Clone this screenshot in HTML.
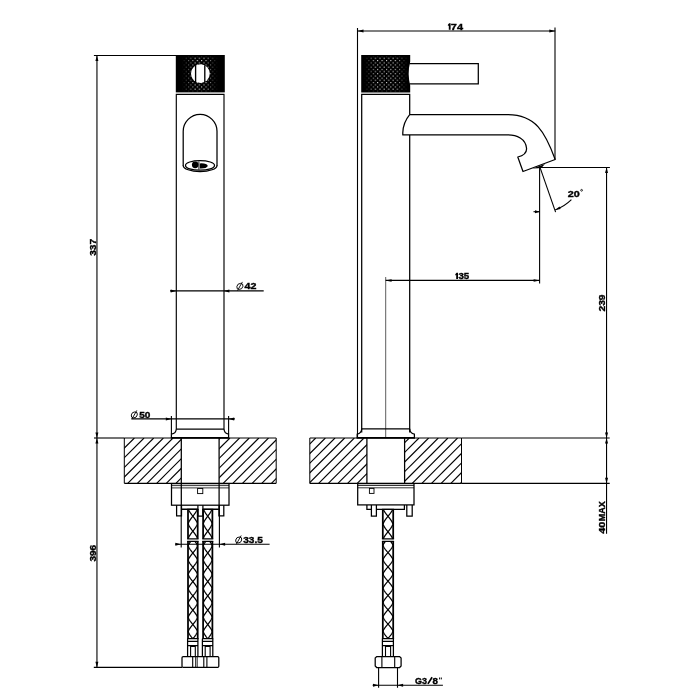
<!DOCTYPE html>
<html><head><meta charset="utf-8"><title>drawing</title>
<style>
html,body{margin:0;padding:0;background:#fff;}
svg{display:block;}
text{font-family:"Liberation Sans",sans-serif;fill:#000;}
svg{filter:grayscale(1);}
</style></head><body>
<svg width="700" height="700" viewBox="0 0 700 700">
<rect width="700" height="700" fill="#fff"/>
<defs>
<pattern id="dots" x="0.5" y="0.2" width="4.4" height="4.4" patternUnits="userSpaceOnUse">
<rect x="0.5" y="0.5" width="1" height="1" fill="#fff"/><rect x="2.7" y="2.7" width="1" height="1" fill="#fff"/>
</pattern>
<linearGradient id="fadeR" x1="0" x2="1" y1="0" y2="0">
<stop offset="0" stop-color="#000"/><stop offset="0.06" stop-color="#000"/><stop offset="0.3" stop-color="#fff"/><stop offset="0.7" stop-color="#fff"/><stop offset="0.95" stop-color="#000"/><stop offset="1" stop-color="#000"/>
</linearGradient>
<linearGradient id="fade" x1="0" x2="1" y1="0" y2="0">
<stop offset="0" stop-color="#000"/><stop offset="0.12" stop-color="#000"/><stop offset="0.4" stop-color="#fff"/><stop offset="0.6" stop-color="#fff"/><stop offset="0.86" stop-color="#000"/><stop offset="1" stop-color="#000"/>
</linearGradient>
<mask id="mL"><rect x="175.8" y="56.8" width="49" height="34.4" fill="url(#fade)"/></mask>
<mask id="mR"><rect x="361.2" y="56.8" width="49" height="34.4" fill="url(#fadeR)"/></mask>
</defs>

<!-- left view -->
<g stroke="#000" stroke-width="1.1" fill="none">
<path d="M93.9,55.5H176"/>
<path d="M96.95,55.5V667.4"/>
<path d="M94,438H124.3"/>
<path d="M93.8,667.4H182"/>
<path d="M170,290.9H263.7"/>
<path d="M131.4,418.9H234.9"/>
<path d="M171.4,415.9V434M228.6,415.9V434"/>
<path d="M175.3,544.2H269.6"/>
<path d="M181.2,505V547.6M219.4,505V547.6"/>
</g>
<polygon points="96.90,55.40 98.40,61.00 95.40,61.00" fill="#000"/>
<polygon points="96.90,438.00 95.40,432.40 98.40,432.40" fill="#000"/>
<polygon points="96.90,438.00 98.40,443.60 95.40,443.60" fill="#000"/>
<polygon points="96.90,667.40 95.40,661.80 98.40,661.80" fill="#000"/>
<polygon points="176.30,290.90 170.70,292.40 170.70,289.40" fill="#000"/>
<polygon points="223.80,290.90 229.40,289.40 229.40,292.40" fill="#000"/>
<polygon points="171.40,418.90 165.80,420.40 165.80,417.40" fill="#000"/>
<polygon points="228.60,418.90 234.20,417.40 234.20,420.40" fill="#000"/>
<polygon points="180.90,544.20 175.30,545.70 175.30,542.70" fill="#000"/>
<polygon points="219.50,544.20 225.10,542.70 225.10,545.70" fill="#000"/>
<rect x="175.8" y="55" width="49" height="37.4" fill="#000"/>
<rect x="175.8" y="55" width="49" height="37.6" fill="url(#dots)" mask="url(#mL)"/>
<circle cx="200.4" cy="73.6" r="9.4" fill="#fff"/>
<path d="M195.6,65.3V82M204.8,65.3V82" stroke="#000" stroke-width="1.35"/>
<path d="M176.3,429V94.3H224V429" stroke="#000" stroke-width="1.15" fill="none"/>
<path d="M176.3,429H224" stroke="#000" stroke-width="1.25" fill="none"/>
<path d="M176.3,429Q176,433.5 171.4,434.2V437.8M224,429Q224.3,433.5 228.6,434.2V437.8" stroke="#000" stroke-width="1.25" fill="none"/>
<path d="M183.2,166V131.3A16.9,16.9 0 0 1 217,131.3V166" stroke="#000" stroke-width="1.25" fill="none"/>
<path d="M183.2,165.4A16.9,6.2 0 0 0 217,165.4" stroke="#000" stroke-width="1.25" fill="none"/>
<ellipse cx="200" cy="165.4" rx="14.5" ry="4.8" stroke="#000" stroke-width="1.25" fill="none"/>
<ellipse cx="195.2" cy="164.8" rx="3.3" ry="3.4" fill="#000"/><path d="M199.8,163.4Q207,163 207.8,166Q206.5,168.8 199.8,168.5Z" fill="#000"/>
<path d="M198.9,161.5V169.6" stroke="#000" stroke-width="0.9"/>
<clipPath id="cL1"><rect x="124.3" y="438" width="56.8" height="45.30000000000001"/></clipPath>
<g clip-path="url(#cL1)" stroke="#000" stroke-width="1.15">
<line x1="69.80" y1="483.3" x2="115.10" y2="438"/>
<line x1="79.45" y1="483.3" x2="124.75" y2="438"/>
<line x1="89.10" y1="483.3" x2="134.40" y2="438"/>
<line x1="98.75" y1="483.3" x2="144.05" y2="438"/>
<line x1="108.40" y1="483.3" x2="153.70" y2="438"/>
<line x1="118.05" y1="483.3" x2="163.35" y2="438"/>
<line x1="127.70" y1="483.3" x2="173.00" y2="438"/>
<line x1="137.35" y1="483.3" x2="182.65" y2="438"/>
<line x1="147.00" y1="483.3" x2="192.30" y2="438"/>
<line x1="156.65" y1="483.3" x2="201.95" y2="438"/>
<line x1="166.30" y1="483.3" x2="211.60" y2="438"/>
<line x1="175.95" y1="483.3" x2="221.25" y2="438"/>
</g>
<clipPath id="cL2"><rect x="219.2" y="438" width="57.0" height="45.30000000000001"/></clipPath>
<g clip-path="url(#cL2)" stroke="#000" stroke-width="1.15">
<line x1="165.30" y1="483.3" x2="210.60" y2="438"/>
<line x1="174.95" y1="483.3" x2="220.25" y2="438"/>
<line x1="184.60" y1="483.3" x2="229.90" y2="438"/>
<line x1="194.25" y1="483.3" x2="239.55" y2="438"/>
<line x1="203.90" y1="483.3" x2="249.20" y2="438"/>
<line x1="213.55" y1="483.3" x2="258.85" y2="438"/>
<line x1="223.20" y1="483.3" x2="268.50" y2="438"/>
<line x1="232.85" y1="483.3" x2="278.15" y2="438"/>
<line x1="242.50" y1="483.3" x2="287.80" y2="438"/>
<line x1="252.15" y1="483.3" x2="297.45" y2="438"/>
<line x1="261.80" y1="483.3" x2="307.10" y2="438"/>
<line x1="271.45" y1="483.3" x2="316.75" y2="438"/>
</g>
<path d="M124.3,438H276.2" stroke="#000" stroke-width="1.0" fill="none"/>
<path d="M170.8,437.9H229.2" stroke="#000" stroke-width="1.6" fill="none"/>
<path d="M124.3,483.3H276.2" stroke="#000" stroke-width="1.3" fill="none"/>
<path d="M124.3,438V483.3M276.2,438V483.3" stroke="#000" stroke-width="1" fill="none"/>
<path d="M181.3,438V505.3M219.1,438V505.3" stroke="#000" stroke-width="1.25" fill="none"/>
<rect x="171.5" y="483.6" width="57.5" height="21.6" stroke="#000" stroke-width="1.25" fill="none"/>
<path d="M171.5,485.6H229M171.5,487.9H229" stroke="#000" stroke-width="0.8"/>
<rect x="197.6" y="488.5" width="5.2" height="5.1" fill="#fff" stroke="#000" stroke-width="0.9"/>
<path d="M176.6,505.2V515.8H181.5V505.2M218.9,505.2V515.8H223.8V505.2" stroke="#000" stroke-width="1.25" fill="none"/>
<path d="M181.5,509.2H197.9M202.9,509.2H218.9" stroke="#000" stroke-width="1.6" fill="none"/>
<path d="M197.9,505.2V516.2H202.9V505.2" stroke="#000" stroke-width="1.25" fill="none"/>
<path d="M188.0,509.3V538.8M197.7,509.3V538.8" stroke="#000" stroke-width="1.75" fill="none"/>
<polyline points="188.46,509.30 188.67,509.80 188.91,510.30 189.17,510.80 189.45,511.30 189.74,511.80 190.06,512.30 190.39,512.80 190.74,513.30 191.10,513.80 191.47,514.30 191.84,514.80 192.23,515.30 192.62,515.80 193.01,516.30 193.39,516.80 193.78,517.30 194.16,517.80 194.53,518.30 194.89,518.80 195.24,519.30 195.58,519.80 195.89,520.30 196.20,520.80 196.48,521.30 196.74,521.80 196.98,522.30 197.20,522.80 197.39,523.30 197.43,523.80 197.24,524.30 197.03,524.80 196.79,525.30 196.53,525.80 196.25,526.30 195.96,526.80 195.64,527.30 195.31,527.80 194.96,528.30 194.60,528.80 194.23,529.30 193.86,529.80 193.47,530.30 193.08,530.80 192.69,531.30 192.31,531.80 191.92,532.30 191.54,532.80 191.17,533.30 190.81,533.80 190.46,534.30 190.12,534.80 189.81,535.30 189.50,535.80 189.22,536.30 188.96,536.80 188.72,537.30 188.50,537.80 188.31,538.30 188.27,538.80" stroke="#000" stroke-width="1.25" fill="none"/>
<polyline points="197.24,509.30 197.03,509.80 196.79,510.30 196.53,510.80 196.25,511.30 195.96,511.80 195.64,512.30 195.31,512.80 194.96,513.30 194.60,513.80 194.23,514.30 193.86,514.80 193.47,515.30 193.08,515.80 192.69,516.30 192.31,516.80 191.92,517.30 191.54,517.80 191.17,518.30 190.81,518.80 190.46,519.30 190.12,519.80 189.81,520.30 189.50,520.80 189.22,521.30 188.96,521.80 188.72,522.30 188.50,522.80 188.31,523.30 188.27,523.80 188.46,524.30 188.67,524.80 188.91,525.30 189.17,525.80 189.45,526.30 189.74,526.80 190.06,527.30 190.39,527.80 190.74,528.30 191.10,528.80 191.47,529.30 191.84,529.80 192.23,530.30 192.62,530.80 193.01,531.30 193.39,531.80 193.78,532.30 194.16,532.80 194.53,533.30 194.89,533.80 195.24,534.30 195.58,534.80 195.89,535.30 196.20,535.80 196.48,536.30 196.74,536.80 196.98,537.30 197.20,537.80 197.39,538.30 197.43,538.80" stroke="#000" stroke-width="1.25" fill="none"/>
<path d="M187.125,509.3H198.575M187.125,538.8H198.575" stroke="#000" stroke-width="1.3" fill="none"/>
<path d="M203.1,509.3V538.8M212.4,509.3V538.8" stroke="#000" stroke-width="1.75" fill="none"/>
<polyline points="203.55,509.30 203.75,509.80 203.98,510.30 204.23,510.80 204.49,511.30 204.78,511.80 205.08,512.30 205.40,512.80 205.73,513.30 206.07,513.80 206.43,514.30 206.79,514.80 207.15,515.30 207.53,515.80 207.90,516.30 208.27,516.80 208.64,517.30 209.00,517.80 209.36,518.30 209.70,518.80 210.04,519.30 210.36,519.80 210.66,520.30 210.95,520.80 211.22,521.30 211.47,521.80 211.70,522.30 211.91,522.80 212.10,523.30 212.13,523.80 211.95,524.30 211.75,524.80 211.52,525.30 211.27,525.80 211.01,526.30 210.72,526.80 210.42,527.30 210.10,527.80 209.77,528.30 209.43,528.80 209.07,529.30 208.71,529.80 208.35,530.30 207.97,530.80 207.60,531.30 207.23,531.80 206.86,532.30 206.50,532.80 206.14,533.30 205.80,533.80 205.46,534.30 205.14,534.80 204.84,535.30 204.55,535.80 204.28,536.30 204.03,536.80 203.80,537.30 203.59,537.80 203.40,538.30 203.37,538.80" stroke="#000" stroke-width="1.25" fill="none"/>
<polyline points="211.95,509.30 211.75,509.80 211.52,510.30 211.27,510.80 211.01,511.30 210.72,511.80 210.42,512.30 210.10,512.80 209.77,513.30 209.43,513.80 209.07,514.30 208.71,514.80 208.35,515.30 207.97,515.80 207.60,516.30 207.23,516.80 206.86,517.30 206.50,517.80 206.14,518.30 205.80,518.80 205.46,519.30 205.14,519.80 204.84,520.30 204.55,520.80 204.28,521.30 204.03,521.80 203.80,522.30 203.59,522.80 203.40,523.30 203.37,523.80 203.55,524.30 203.75,524.80 203.98,525.30 204.23,525.80 204.49,526.30 204.78,526.80 205.08,527.30 205.40,527.80 205.73,528.30 206.07,528.80 206.43,529.30 206.79,529.80 207.15,530.30 207.53,530.80 207.90,531.30 208.27,531.80 208.64,532.30 209.00,532.80 209.36,533.30 209.70,533.80 210.04,534.30 210.36,534.80 210.66,535.30 210.95,535.80 211.22,536.30 211.47,536.80 211.70,537.30 211.91,537.80 212.10,538.30 212.13,538.80" stroke="#000" stroke-width="1.25" fill="none"/>
<path d="M202.225,509.3H213.275M202.225,538.8H213.275" stroke="#000" stroke-width="1.3" fill="none"/>
<path d="M188.0,541.3V638.7M197.7,541.3V638.7" stroke="#000" stroke-width="1.75" fill="none"/>
<polyline points="190.71,541.30 190.35,541.80 190.01,542.30 189.68,542.80 189.37,543.30 189.09,543.80 188.82,544.30 188.59,544.80 188.37,545.30 188.22,545.80 188.41,546.30 188.63,546.80 188.87,547.30 189.14,547.80 189.43,548.30 189.74,548.80 190.07,549.30 190.42,549.80 190.79,550.30 191.17,550.80 191.56,551.30 191.96,551.80 192.36,552.30 192.77,552.80 193.18,553.30 193.58,553.80 193.98,554.30 194.38,554.80 194.76,555.30 195.13,555.80 195.49,556.30 195.83,556.80 196.15,557.30 196.44,557.80 196.72,558.30 196.97,558.80 197.20,559.30 197.41,559.80 197.41,560.30 197.20,560.80 196.97,561.30 196.72,561.80 196.44,562.30 196.15,562.80 195.83,563.30 195.49,563.80 195.13,564.30 194.76,564.80 194.38,565.30 193.98,565.80 193.58,566.30 193.18,566.80 192.77,567.30 192.36,567.80 191.96,568.30 191.56,568.80 191.17,569.30 190.79,569.80 190.42,570.30 190.07,570.80 189.74,571.30 189.43,571.80 189.14,572.30 188.87,572.80 188.63,573.30 188.41,573.80 188.22,574.30 188.37,574.80 188.59,575.30 188.82,575.80 189.09,576.30 189.37,576.80 189.68,577.30 190.01,577.80 190.35,578.30 190.71,578.80 191.09,579.30 191.48,579.80 191.88,580.30 192.28,580.80 192.69,581.30 193.10,581.80 193.50,582.30 193.90,582.80 194.30,583.30 194.69,583.80 195.06,584.30 195.42,584.80 195.76,585.30 196.08,585.80 196.39,586.30 196.67,586.80 196.93,587.30 197.16,587.80 197.37,588.30 197.45,588.80 197.25,589.30 197.02,589.80 196.77,590.30 196.50,590.80 196.21,591.30 195.89,591.80 195.56,592.30 195.20,592.80 194.84,593.30 194.46,593.80 194.06,594.30 193.66,594.80 193.26,595.30 192.85,595.80 192.44,596.30 192.04,596.80 191.64,597.30 191.24,597.80 190.86,598.30 190.50,598.80 190.14,599.30 189.81,599.80 189.49,600.30 189.20,600.80 188.93,601.30 188.68,601.80 188.45,602.30 188.25,602.80 188.33,603.30 188.54,603.80 188.77,604.30 189.03,604.80 189.31,605.30 189.62,605.80 189.94,606.30 190.28,606.80 190.64,607.30 191.01,607.80 191.40,608.30 191.80,608.80 192.20,609.30 192.60,609.80 193.01,610.30 193.42,610.80 193.82,611.30 194.22,611.80 194.61,612.30 194.99,612.80 195.35,613.30 195.69,613.80 196.02,614.30 196.33,614.80 196.61,615.30 196.88,615.80 197.11,616.30 197.33,616.80 197.48,617.30 197.29,617.80 197.07,618.30 196.83,618.80 196.56,619.30 196.27,619.80 195.96,620.30 195.63,620.80 195.28,621.30 194.91,621.80 194.53,622.30 194.14,622.80 193.74,623.30 193.34,623.80 192.93,624.30 192.52,624.80 192.12,625.30 191.72,625.80 191.32,626.30 190.94,626.80 190.57,627.30 190.21,627.80 189.87,628.30 189.55,628.80 189.26,629.30 188.98,629.80 188.73,630.30 188.50,630.80 188.29,631.30 188.29,631.80 188.50,632.30 188.73,632.80 188.98,633.30 189.26,633.80 189.55,634.30 189.87,634.80 190.21,635.30 190.57,635.80 190.94,636.30 191.32,636.80 191.72,637.30 192.12,637.80 192.52,638.30" stroke="#000" stroke-width="1.25" fill="none"/>
<polyline points="194.99,541.30 195.35,541.80 195.69,542.30 196.02,542.80 196.33,543.30 196.61,543.80 196.88,544.30 197.11,544.80 197.33,545.30 197.48,545.80 197.29,546.30 197.07,546.80 196.83,547.30 196.56,547.80 196.27,548.30 195.96,548.80 195.63,549.30 195.28,549.80 194.91,550.30 194.53,550.80 194.14,551.30 193.74,551.80 193.34,552.30 192.93,552.80 192.52,553.30 192.12,553.80 191.72,554.30 191.32,554.80 190.94,555.30 190.57,555.80 190.21,556.30 189.87,556.80 189.55,557.30 189.26,557.80 188.98,558.30 188.73,558.80 188.50,559.30 188.29,559.80 188.29,560.30 188.50,560.80 188.73,561.30 188.98,561.80 189.26,562.30 189.55,562.80 189.87,563.30 190.21,563.80 190.57,564.30 190.94,564.80 191.32,565.30 191.72,565.80 192.12,566.30 192.52,566.80 192.93,567.30 193.34,567.80 193.74,568.30 194.14,568.80 194.53,569.30 194.91,569.80 195.28,570.30 195.63,570.80 195.96,571.30 196.27,571.80 196.56,572.30 196.83,572.80 197.07,573.30 197.29,573.80 197.48,574.30 197.33,574.80 197.11,575.30 196.88,575.80 196.61,576.30 196.33,576.80 196.02,577.30 195.69,577.80 195.35,578.30 194.99,578.80 194.61,579.30 194.22,579.80 193.82,580.30 193.42,580.80 193.01,581.30 192.60,581.80 192.20,582.30 191.80,582.80 191.40,583.30 191.01,583.80 190.64,584.30 190.28,584.80 189.94,585.30 189.62,585.80 189.31,586.30 189.03,586.80 188.77,587.30 188.54,587.80 188.33,588.30 188.25,588.80 188.45,589.30 188.68,589.80 188.93,590.30 189.20,590.80 189.49,591.30 189.81,591.80 190.14,592.30 190.50,592.80 190.86,593.30 191.24,593.80 191.64,594.30 192.04,594.80 192.44,595.30 192.85,595.80 193.26,596.30 193.66,596.80 194.06,597.30 194.46,597.80 194.84,598.30 195.20,598.80 195.56,599.30 195.89,599.80 196.21,600.30 196.50,600.80 196.77,601.30 197.02,601.80 197.25,602.30 197.45,602.80 197.37,603.30 197.16,603.80 196.93,604.30 196.67,604.80 196.39,605.30 196.08,605.80 195.76,606.30 195.42,606.80 195.06,607.30 194.69,607.80 194.30,608.30 193.90,608.80 193.50,609.30 193.10,609.80 192.69,610.30 192.28,610.80 191.88,611.30 191.48,611.80 191.09,612.30 190.71,612.80 190.35,613.30 190.01,613.80 189.68,614.30 189.37,614.80 189.09,615.30 188.82,615.80 188.59,616.30 188.37,616.80 188.22,617.30 188.41,617.80 188.63,618.30 188.87,618.80 189.14,619.30 189.43,619.80 189.74,620.30 190.07,620.80 190.42,621.30 190.79,621.80 191.17,622.30 191.56,622.80 191.96,623.30 192.36,623.80 192.77,624.30 193.18,624.80 193.58,625.30 193.98,625.80 194.38,626.30 194.76,626.80 195.13,627.30 195.49,627.80 195.83,628.30 196.15,628.80 196.44,629.30 196.72,629.80 196.97,630.30 197.20,630.80 197.41,631.30 197.41,631.80 197.20,632.30 196.97,632.80 196.72,633.30 196.44,633.80 196.15,634.30 195.83,634.80 195.49,635.30 195.13,635.80 194.76,636.30 194.38,636.80 193.98,637.30 193.58,637.80 193.18,638.30" stroke="#000" stroke-width="1.25" fill="none"/>
<path d="M187.125,541.3H198.575M187.125,638.7H198.575" stroke="#000" stroke-width="1.3" fill="none"/>
<path d="M203.1,541.3V638.7M212.4,541.3V638.7" stroke="#000" stroke-width="1.75" fill="none"/>
<polyline points="205.71,541.30 205.36,541.80 205.03,542.30 204.72,542.80 204.42,543.30 204.15,543.80 203.90,544.30 203.67,544.80 203.46,545.30 203.32,545.80 203.50,546.30 203.71,546.80 203.95,547.30 204.20,547.80 204.48,548.30 204.78,548.80 205.09,549.30 205.43,549.80 205.78,550.30 206.14,550.80 206.51,551.30 206.89,551.80 207.28,552.30 207.67,552.80 208.06,553.30 208.45,553.80 208.84,554.30 209.21,554.80 209.58,555.30 209.93,555.80 210.27,556.30 210.60,556.80 210.90,557.30 211.19,557.80 211.45,558.30 211.70,558.80 211.92,559.30 212.11,559.80 212.11,560.30 211.92,560.80 211.70,561.30 211.45,561.80 211.19,562.30 210.90,562.80 210.60,563.30 210.27,563.80 209.93,564.30 209.58,564.80 209.21,565.30 208.84,565.80 208.45,566.30 208.06,566.80 207.67,567.30 207.28,567.80 206.89,568.30 206.51,568.80 206.14,569.30 205.78,569.80 205.43,570.30 205.09,570.80 204.78,571.30 204.48,571.80 204.20,572.30 203.95,572.80 203.71,573.30 203.50,573.80 203.32,574.30 203.46,574.80 203.67,575.30 203.90,575.80 204.15,576.30 204.42,576.80 204.72,577.30 205.03,577.80 205.36,578.30 205.71,578.80 206.07,579.30 206.44,579.80 206.82,580.30 207.20,580.80 207.59,581.30 207.98,581.80 208.37,582.30 208.76,582.80 209.14,583.30 209.51,583.80 209.86,584.30 210.21,584.80 210.53,585.30 210.84,585.80 211.13,586.30 211.40,586.80 211.65,587.30 211.87,587.80 212.07,588.30 212.15,588.80 211.96,589.30 211.74,589.80 211.51,590.30 211.24,590.80 210.96,591.30 210.66,591.80 210.34,592.30 210.00,592.80 209.65,593.30 209.29,593.80 208.91,594.30 208.53,594.80 208.14,595.30 207.75,595.80 207.36,596.30 206.97,596.80 206.59,597.30 206.21,597.80 205.85,598.30 205.50,598.80 205.16,599.30 204.84,599.80 204.54,600.30 204.26,600.80 203.99,601.30 203.76,601.80 203.54,602.30 203.35,602.80 203.43,603.30 203.63,603.80 203.85,604.30 204.10,604.80 204.37,605.30 204.66,605.80 204.97,606.30 205.29,606.80 205.64,607.30 205.99,607.80 206.36,608.30 206.74,608.80 207.13,609.30 207.52,609.80 207.91,610.30 208.30,610.80 208.68,611.30 209.06,611.80 209.43,612.30 209.79,612.80 210.14,613.30 210.47,613.80 210.78,614.30 211.08,614.80 211.35,615.30 211.60,615.80 211.83,616.30 212.04,616.80 212.18,617.30 212.00,617.80 211.79,618.30 211.55,618.80 211.30,619.30 211.02,619.80 210.72,620.30 210.41,620.80 210.07,621.30 209.72,621.80 209.36,622.30 208.99,622.80 208.61,623.30 208.22,623.80 207.83,624.30 207.44,624.80 207.05,625.30 206.66,625.80 206.29,626.30 205.92,626.80 205.57,627.30 205.23,627.80 204.90,628.30 204.60,628.80 204.31,629.30 204.05,629.80 203.80,630.30 203.58,630.80 203.39,631.30 203.39,631.80 203.58,632.30 203.80,632.80 204.05,633.30 204.31,633.80 204.60,634.30 204.90,634.80 205.23,635.30 205.57,635.80 205.92,636.30 206.29,636.80 206.66,637.30 207.05,637.80 207.44,638.30" stroke="#000" stroke-width="1.25" fill="none"/>
<polyline points="209.79,541.30 210.14,541.80 210.47,542.30 210.78,542.80 211.08,543.30 211.35,543.80 211.60,544.30 211.83,544.80 212.04,545.30 212.18,545.80 212.00,546.30 211.79,546.80 211.55,547.30 211.30,547.80 211.02,548.30 210.72,548.80 210.41,549.30 210.07,549.80 209.72,550.30 209.36,550.80 208.99,551.30 208.61,551.80 208.22,552.30 207.83,552.80 207.44,553.30 207.05,553.80 206.66,554.30 206.29,554.80 205.92,555.30 205.57,555.80 205.23,556.30 204.90,556.80 204.60,557.30 204.31,557.80 204.05,558.30 203.80,558.80 203.58,559.30 203.39,559.80 203.39,560.30 203.58,560.80 203.80,561.30 204.05,561.80 204.31,562.30 204.60,562.80 204.90,563.30 205.23,563.80 205.57,564.30 205.92,564.80 206.29,565.30 206.66,565.80 207.05,566.30 207.44,566.80 207.83,567.30 208.22,567.80 208.61,568.30 208.99,568.80 209.36,569.30 209.72,569.80 210.07,570.30 210.41,570.80 210.72,571.30 211.02,571.80 211.30,572.30 211.55,572.80 211.79,573.30 212.00,573.80 212.18,574.30 212.04,574.80 211.83,575.30 211.60,575.80 211.35,576.30 211.08,576.80 210.78,577.30 210.47,577.80 210.14,578.30 209.79,578.80 209.43,579.30 209.06,579.80 208.68,580.30 208.30,580.80 207.91,581.30 207.52,581.80 207.13,582.30 206.74,582.80 206.36,583.30 205.99,583.80 205.64,584.30 205.29,584.80 204.97,585.30 204.66,585.80 204.37,586.30 204.10,586.80 203.85,587.30 203.63,587.80 203.43,588.30 203.35,588.80 203.54,589.30 203.76,589.80 203.99,590.30 204.26,590.80 204.54,591.30 204.84,591.80 205.16,592.30 205.50,592.80 205.85,593.30 206.21,593.80 206.59,594.30 206.97,594.80 207.36,595.30 207.75,595.80 208.14,596.30 208.53,596.80 208.91,597.30 209.29,597.80 209.65,598.30 210.00,598.80 210.34,599.30 210.66,599.80 210.96,600.30 211.24,600.80 211.51,601.30 211.74,601.80 211.96,602.30 212.15,602.80 212.07,603.30 211.87,603.80 211.65,604.30 211.40,604.80 211.13,605.30 210.84,605.80 210.53,606.30 210.21,606.80 209.86,607.30 209.51,607.80 209.14,608.30 208.76,608.80 208.37,609.30 207.98,609.80 207.59,610.30 207.20,610.80 206.82,611.30 206.44,611.80 206.07,612.30 205.71,612.80 205.36,613.30 205.03,613.80 204.72,614.30 204.42,614.80 204.15,615.30 203.90,615.80 203.67,616.30 203.46,616.80 203.32,617.30 203.50,617.80 203.71,618.30 203.95,618.80 204.20,619.30 204.48,619.80 204.78,620.30 205.09,620.80 205.43,621.30 205.78,621.80 206.14,622.30 206.51,622.80 206.89,623.30 207.28,623.80 207.67,624.30 208.06,624.80 208.45,625.30 208.84,625.80 209.21,626.30 209.58,626.80 209.93,627.30 210.27,627.80 210.60,628.30 210.90,628.80 211.19,629.30 211.45,629.80 211.70,630.30 211.92,630.80 212.11,631.30 212.11,631.80 211.92,632.30 211.70,632.80 211.45,633.30 211.19,633.80 210.90,634.30 210.60,634.80 210.27,635.30 209.93,635.80 209.58,636.30 209.21,636.80 208.84,637.30 208.45,637.80 208.06,638.30" stroke="#000" stroke-width="1.25" fill="none"/>
<path d="M202.225,541.3H213.275M202.225,638.7H213.275" stroke="#000" stroke-width="1.3" fill="none"/>
<path d="M187.6,638.7V656.4M197.9,638.7V656.4M187.6,641.4H197.9M187.1,645.6H198.4" stroke="#000" stroke-width="1.25" fill="none"/>
<path d="M190.6,656.4V646.4H195.3V656.4" stroke="#000" stroke-width="1.1" fill="none"/>
<path d="M202.4,638.7V656.4M212.8,638.7V656.4M202.4,641.4H212.8M201.9,645.6H213.3" stroke="#000" stroke-width="1.25" fill="none"/>
<path d="M205.2,656.4V646.4H210.1V656.4" stroke="#000" stroke-width="1.1" fill="none"/>
<rect x="182" y="656.6" width="36.8" height="10.8" rx="1.2" stroke="#000" stroke-width="1.25" fill="none"/>
<path d="M192.7,656.6V667.4M195.8,656.6V667.4M203.8,656.6V667.4M206.9,656.6V667.4" stroke="#000" stroke-width="1.1"/>
<path d="M197.5,656.6V667.4" stroke="#000" stroke-width="0.6"/>
<text x="95.6" y="255.8" font-size="8.6" font-weight="bold" stroke="#000" stroke-width="0.35" textLength="17.0" lengthAdjust="spacingAndGlyphs" transform="rotate(-90 95.6 255.8)">337</text>
<text x="95.6" y="561.6" font-size="8.6" font-weight="bold" stroke="#000" stroke-width="0.35" textLength="16.7" lengthAdjust="spacingAndGlyphs" transform="rotate(-90 95.6 561.6)">396</text>
<ellipse cx="239.9" cy="286.4" rx="3.0" ry="3.0" fill="none" stroke="#000" stroke-width="0.9" transform="skewX(-12)" style="transform-origin:239.9px 286.4px"/><line x1="237.5" y1="290.59999999999997" x2="242.4" y2="281.9" stroke="#000" stroke-width="0.9"/>
<text x="244.5" y="288.9" font-size="8.6" font-weight="bold" stroke="#000" stroke-width="0.35" textLength="11.9" lengthAdjust="spacingAndGlyphs">42</text>
<ellipse cx="134.3" cy="414.9" rx="3.0" ry="3.0" fill="none" stroke="#000" stroke-width="0.9" transform="skewX(-12)" style="transform-origin:134.3px 414.9px"/><line x1="131.9" y1="419.09999999999997" x2="136.8" y2="410.4" stroke="#000" stroke-width="0.9"/>
<text x="139.2" y="417.7" font-size="8.6" font-weight="bold" stroke="#000" stroke-width="0.35" textLength="11.2" lengthAdjust="spacingAndGlyphs">50</text>
<ellipse cx="238.7" cy="540.0" rx="3.0" ry="3.0" fill="none" stroke="#000" stroke-width="0.9" transform="skewX(-12)" style="transform-origin:238.7px 540.0px"/><line x1="236.29999999999998" y1="544.2" x2="241.2" y2="535.5" stroke="#000" stroke-width="0.9"/>
<text x="243.2" y="542.5" font-size="8.6" font-weight="bold" stroke="#000" stroke-width="0.35" textLength="19.6" lengthAdjust="spacingAndGlyphs">33.5</text>
<!-- right view -->
<g stroke="#000" stroke-width="1.1" fill="none">
<path d="M357.5,31.0H555.3"/>
<path d="M357.5,28V437.5"/>
<path d="M555.0,27.5V159.4"/>
<path d="M385.7,277V437.5" stroke-width="0.8" stroke="#333"/>
<path d="M385.7,280.4H539.6"/>
<path d="M539.6,167.4V283.5"/>
<path d="M539.5,167.45H609.9"/>
<path d="M540,167.4L555.6,212.1"/>
<path d="M555.1,209.9A45.1,45.1 0 0 0 571.4,199.6"/>
<path d="M533.5,211.7H540"/>
<path d="M606.55,167.4V533.7"/>
<path d="M461.5,438H609.7"/>
<path d="M461.5,483.4H609.7"/>
<path d="M378.6,667.5V687.8M397.5,667.5V687.8"/>
<path d="M372.6,685.2H442.9"/>
</g>
<polygon points="357.50,31.00 363.50,29.50 363.50,32.50" fill="#000"/>
<polygon points="555.30,31.00 549.30,32.50 549.30,29.50" fill="#000"/>
<polygon points="385.30,280.40 391.60,279.15 391.60,281.65" fill="#000"/>
<polygon points="539.90,280.40 533.60,281.65 533.60,279.15" fill="#000"/>
<polygon points="606.55,167.50 608.05,173.10 605.05,173.10" fill="#000"/>
<polygon points="606.55,438.00 605.05,432.40 608.05,432.40" fill="#000"/>
<polygon points="606.55,438.00 608.05,443.60 605.05,443.60" fill="#000"/>
<polygon points="606.55,483.40 605.05,477.80 608.05,477.80" fill="#000"/>
<polygon points="540.00,211.70 535.00,213.20 535.00,210.20" fill="#000"/>
<polygon points="555.00,209.90 559.51,206.47 560.61,209.04" fill="#000"/>
<polygon points="378.60,685.20 373.00,686.70 373.00,683.70" fill="#000"/>
<polygon points="397.50,685.20 403.10,683.70 403.10,686.70" fill="#000"/>
<polygon points="532.5,168.6 545,163.9 542,167.2 538.5,168.2" fill="#000"/>
<path d="M361.2,55H410.2V61.5Q407.2,73.6 410.2,85.5V92.4H361.2Z" fill="#000"/>
<path d="M361.2,55H410.2V61.5Q407.2,73.6 410.2,85.5V92.4H361.2Z" fill="url(#dots)" mask="url(#mR)"/>
<path d="M409.3,63.6H478.3V83.8H409.3" stroke="#000" stroke-width="1.25" fill="none"/>
<path d="M361.7,432.5V94.3H409.7V114.7M409.7,135V432.5" stroke="#000" stroke-width="1.25" fill="none"/>
<path d="M409.7,114.7H508C535.5,114.8 545.2,132.2 555.2,159.5L523,171.5L517.8,157C524,155.5 527,152 526.5,148C525.5,139 517,134.9 508,134.9H402.8V132.6Q403.2,122.5 409.7,114.7" stroke="#000" stroke-width="1.25" fill="none" stroke-linejoin="round"/>
<path d="M361.7,428.8H409.7" stroke="#000" stroke-width="1.25" fill="none"/>
<path d="M361.7,428.8Q361.4,433.5 357.2,434.2V437.8M409.7,428.8Q410,433.5 414.4,434.2V437.8" stroke="#000" stroke-width="1.25" fill="none"/>
<clipPath id="cR1"><rect x="309.8" y="438" width="57.099999999999966" height="45.30000000000001"/></clipPath>
<g clip-path="url(#cR1)" stroke="#000" stroke-width="1.15">
<line x1="260.75" y1="483.3" x2="306.05" y2="438"/>
<line x1="270.40" y1="483.3" x2="315.70" y2="438"/>
<line x1="280.05" y1="483.3" x2="325.35" y2="438"/>
<line x1="289.70" y1="483.3" x2="335.00" y2="438"/>
<line x1="299.35" y1="483.3" x2="344.65" y2="438"/>
<line x1="309.00" y1="483.3" x2="354.30" y2="438"/>
<line x1="318.65" y1="483.3" x2="363.95" y2="438"/>
<line x1="328.30" y1="483.3" x2="373.60" y2="438"/>
<line x1="337.95" y1="483.3" x2="383.25" y2="438"/>
<line x1="347.60" y1="483.3" x2="392.90" y2="438"/>
<line x1="357.25" y1="483.3" x2="402.55" y2="438"/>
<line x1="366.90" y1="483.3" x2="412.20" y2="438"/>
</g>
<clipPath id="cR2"><rect x="404.6" y="438" width="56.799999999999955" height="45.30000000000001"/></clipPath>
<g clip-path="url(#cR2)" stroke="#000" stroke-width="1.15">
<line x1="354.35" y1="483.3" x2="399.65" y2="438"/>
<line x1="364.00" y1="483.3" x2="409.30" y2="438"/>
<line x1="373.65" y1="483.3" x2="418.95" y2="438"/>
<line x1="383.30" y1="483.3" x2="428.60" y2="438"/>
<line x1="392.95" y1="483.3" x2="438.25" y2="438"/>
<line x1="402.60" y1="483.3" x2="447.90" y2="438"/>
<line x1="412.25" y1="483.3" x2="457.55" y2="438"/>
<line x1="421.90" y1="483.3" x2="467.20" y2="438"/>
<line x1="431.55" y1="483.3" x2="476.85" y2="438"/>
<line x1="441.20" y1="483.3" x2="486.50" y2="438"/>
<line x1="450.85" y1="483.3" x2="496.15" y2="438"/>
<line x1="460.50" y1="483.3" x2="505.80" y2="438"/>
</g>
<path d="M309.8,438H461.5" stroke="#000" stroke-width="1.0" fill="none"/>
<path d="M356.6,437.9H415" stroke="#000" stroke-width="1.6" fill="none"/>
<path d="M309.8,483.3H461.5" stroke="#000" stroke-width="1.3" fill="none"/>
<path d="M309.8,438V483.5M461.5,438V483.5" stroke="#000" stroke-width="1" fill="none"/>
<path d="M366.9,438V483.5M404.6,438V483.5" stroke="#000" stroke-width="1.25" fill="none"/>
<rect x="357.7" y="483.6" width="56.3" height="21.3" stroke="#000" stroke-width="1.25" fill="none"/>
<path d="M357.7,485.5H414M357.7,487.8H414" stroke="#000" stroke-width="0.8"/>
<rect x="369.4" y="488.4" width="4.6" height="5" fill="#fff" stroke="#000" stroke-width="0.9"/>
<path d="M366.9,505V509.4H371.3M376.4,509.4H404.4V505" stroke="#000" stroke-width="1.25" fill="none"/>
<path d="M371.4,505V516.2H376.4V505M406.8,505V516.2H412.2V505" stroke="#000" stroke-width="1.25" fill="none"/>
<path d="M382.8,509.4V538.9M393.2,509.4V538.9" stroke="#000" stroke-width="1.75" fill="none"/>
<polyline points="383.33,509.40 383.56,509.90 383.81,510.40 384.08,510.90 384.38,511.40 384.69,511.90 385.02,512.40 385.36,512.90 385.72,513.40 386.10,513.90 386.48,514.40 386.87,514.90 387.27,515.40 387.68,515.90 388.08,516.40 388.49,516.90 388.89,517.40 389.28,517.90 389.67,518.40 390.05,518.90 390.42,519.40 390.78,519.90 391.12,520.40 391.44,520.90 391.74,521.40 392.03,521.90 392.29,522.40 392.53,522.90 392.75,523.40 392.95,523.90 392.87,524.40 392.67,524.90 392.44,525.40 392.19,525.90 391.92,526.40 391.62,526.90 391.31,527.40 390.98,527.90 390.64,528.40 390.28,528.90 389.90,529.40 389.52,529.90 389.13,530.40 388.73,530.90 388.32,531.40 387.92,531.90 387.51,532.40 387.11,532.90 386.72,533.40 386.33,533.90 385.95,534.40 385.58,534.90 385.22,535.40 384.88,535.90 384.56,536.40 384.26,536.90 383.97,537.40 383.71,537.90 383.47,538.40 383.25,538.90" stroke="#000" stroke-width="1.25" fill="none"/>
<polyline points="392.67,509.40 392.44,509.90 392.19,510.40 391.92,510.90 391.62,511.40 391.31,511.90 390.98,512.40 390.64,512.90 390.28,513.40 389.90,513.90 389.52,514.40 389.13,514.90 388.73,515.40 388.32,515.90 387.92,516.40 387.51,516.90 387.11,517.40 386.72,517.90 386.33,518.40 385.95,518.90 385.58,519.40 385.22,519.90 384.88,520.40 384.56,520.90 384.26,521.40 383.97,521.90 383.71,522.40 383.47,522.90 383.25,523.40 383.05,523.90 383.13,524.40 383.33,524.90 383.56,525.40 383.81,525.90 384.08,526.40 384.38,526.90 384.69,527.40 385.02,527.90 385.36,528.40 385.72,528.90 386.10,529.40 386.48,529.90 386.87,530.40 387.27,530.90 387.68,531.40 388.08,531.90 388.49,532.40 388.89,532.90 389.28,533.40 389.67,533.90 390.05,534.40 390.42,534.90 390.78,535.40 391.12,535.90 391.44,536.40 391.74,536.90 392.03,537.40 392.29,537.90 392.53,538.40 392.75,538.90" stroke="#000" stroke-width="1.25" fill="none"/>
<path d="M381.925,509.4H394.075M381.925,538.9H394.075" stroke="#000" stroke-width="1.3" fill="none"/>
<path d="M382.8,541.3V638.6M393.2,541.3V638.6" stroke="#000" stroke-width="1.75" fill="none"/>
<polyline points="385.39,541.30 385.02,541.80 384.66,542.30 384.32,542.80 384.01,543.30 383.73,543.80 383.46,544.30 383.23,544.80 383.02,545.30 383.18,545.80 383.41,546.30 383.67,546.80 383.95,547.30 384.26,547.80 384.59,548.30 384.94,548.80 385.31,549.30 385.70,549.80 386.11,550.30 386.53,550.80 386.95,551.30 387.39,551.80 387.82,552.30 388.26,552.80 388.70,553.30 389.13,553.80 389.56,554.30 389.97,554.80 390.38,555.30 390.76,555.80 391.13,556.30 391.48,556.80 391.80,557.30 392.11,557.80 392.38,558.30 392.63,558.80 392.86,559.30 392.94,559.80 392.73,560.30 392.49,560.80 392.22,561.30 391.93,561.80 391.61,562.30 391.27,562.80 390.91,563.30 390.53,563.80 390.14,564.30 389.73,564.80 389.31,565.30 388.87,565.80 388.44,566.30 388.00,566.80 387.56,567.30 387.13,567.80 386.69,568.30 386.27,568.80 385.86,569.30 385.47,569.80 385.09,570.30 384.73,570.80 384.39,571.30 384.07,571.80 383.78,572.30 383.51,572.80 383.27,573.30 383.06,573.80 383.14,574.30 383.37,574.80 383.62,575.30 383.89,575.80 384.20,576.30 384.52,576.80 384.87,577.30 385.24,577.80 385.62,578.30 386.03,578.80 386.44,579.30 386.87,579.80 387.30,580.30 387.74,580.80 388.18,581.30 388.61,581.80 389.05,582.30 389.47,582.80 389.89,583.30 390.30,583.80 390.69,584.30 391.06,584.80 391.41,585.30 391.74,585.80 392.05,586.30 392.33,586.80 392.59,587.30 392.82,587.80 392.98,588.30 392.77,588.80 392.54,589.30 392.27,589.80 391.99,590.30 391.68,590.80 391.34,591.30 390.98,591.80 390.61,592.30 390.22,592.80 389.81,593.30 389.39,593.80 388.96,594.30 388.53,594.80 388.09,595.30 387.65,595.80 387.21,596.30 386.78,596.80 386.36,597.30 385.94,597.80 385.55,598.30 385.16,598.80 384.80,599.30 384.46,599.80 384.13,600.30 383.84,600.80 383.57,601.30 383.32,601.80 383.10,602.30 383.10,602.80 383.32,603.30 383.57,603.80 383.84,604.30 384.13,604.80 384.46,605.30 384.80,605.80 385.16,606.30 385.55,606.80 385.94,607.30 386.36,607.80 386.78,608.30 387.21,608.80 387.65,609.30 388.09,609.80 388.53,610.30 388.96,610.80 389.39,611.30 389.81,611.80 390.22,612.30 390.61,612.80 390.98,613.30 391.34,613.80 391.68,614.30 391.99,614.80 392.27,615.30 392.54,615.80 392.77,616.30 392.98,616.80 392.82,617.30 392.59,617.80 392.33,618.30 392.05,618.80 391.74,619.30 391.41,619.80 391.06,620.30 390.69,620.80 390.30,621.30 389.89,621.80 389.47,622.30 389.05,622.80 388.61,623.30 388.18,623.80 387.74,624.30 387.30,624.80 386.87,625.30 386.44,625.80 386.03,626.30 385.62,626.80 385.24,627.30 384.87,627.80 384.52,628.30 384.20,628.80 383.89,629.30 383.62,629.80 383.37,630.30 383.14,630.80 383.06,631.30 383.27,631.80 383.51,632.30 383.78,632.80 384.07,633.30 384.39,633.80 384.73,634.30 385.09,634.80 385.47,635.30 385.86,635.80 386.27,636.30 386.69,636.80 387.13,637.30 387.56,637.80 388.00,638.30" stroke="#000" stroke-width="1.25" fill="none"/>
<polyline points="390.61,541.30 390.98,541.80 391.34,542.30 391.68,542.80 391.99,543.30 392.27,543.80 392.54,544.30 392.77,544.80 392.98,545.30 392.82,545.80 392.59,546.30 392.33,546.80 392.05,547.30 391.74,547.80 391.41,548.30 391.06,548.80 390.69,549.30 390.30,549.80 389.89,550.30 389.47,550.80 389.05,551.30 388.61,551.80 388.18,552.30 387.74,552.80 387.30,553.30 386.87,553.80 386.44,554.30 386.03,554.80 385.62,555.30 385.24,555.80 384.87,556.30 384.52,556.80 384.20,557.30 383.89,557.80 383.62,558.30 383.37,558.80 383.14,559.30 383.06,559.80 383.27,560.30 383.51,560.80 383.78,561.30 384.07,561.80 384.39,562.30 384.73,562.80 385.09,563.30 385.47,563.80 385.86,564.30 386.27,564.80 386.69,565.30 387.13,565.80 387.56,566.30 388.00,566.80 388.44,567.30 388.87,567.80 389.31,568.30 389.73,568.80 390.14,569.30 390.53,569.80 390.91,570.30 391.27,570.80 391.61,571.30 391.93,571.80 392.22,572.30 392.49,572.80 392.73,573.30 392.94,573.80 392.86,574.30 392.63,574.80 392.38,575.30 392.11,575.80 391.80,576.30 391.48,576.80 391.13,577.30 390.76,577.80 390.38,578.30 389.97,578.80 389.56,579.30 389.13,579.80 388.70,580.30 388.26,580.80 387.82,581.30 387.39,581.80 386.95,582.30 386.53,582.80 386.11,583.30 385.70,583.80 385.31,584.30 384.94,584.80 384.59,585.30 384.26,585.80 383.95,586.30 383.67,586.80 383.41,587.30 383.18,587.80 383.02,588.30 383.23,588.80 383.46,589.30 383.73,589.80 384.01,590.30 384.32,590.80 384.66,591.30 385.02,591.80 385.39,592.30 385.78,592.80 386.19,593.30 386.61,593.80 387.04,594.30 387.47,594.80 387.91,595.30 388.35,595.80 388.79,596.30 389.22,596.80 389.64,597.30 390.06,597.80 390.45,598.30 390.84,598.80 391.20,599.30 391.54,599.80 391.87,600.30 392.16,600.80 392.43,601.30 392.68,601.80 392.90,602.30 392.90,602.80 392.68,603.30 392.43,603.80 392.16,604.30 391.87,604.80 391.54,605.30 391.20,605.80 390.84,606.30 390.45,606.80 390.06,607.30 389.64,607.80 389.22,608.30 388.79,608.80 388.35,609.30 387.91,609.80 387.47,610.30 387.04,610.80 386.61,611.30 386.19,611.80 385.78,612.30 385.39,612.80 385.02,613.30 384.66,613.80 384.32,614.30 384.01,614.80 383.73,615.30 383.46,615.80 383.23,616.30 383.02,616.80 383.18,617.30 383.41,617.80 383.67,618.30 383.95,618.80 384.26,619.30 384.59,619.80 384.94,620.30 385.31,620.80 385.70,621.30 386.11,621.80 386.53,622.30 386.95,622.80 387.39,623.30 387.82,623.80 388.26,624.30 388.70,624.80 389.13,625.30 389.56,625.80 389.97,626.30 390.38,626.80 390.76,627.30 391.13,627.80 391.48,628.30 391.80,628.80 392.11,629.30 392.38,629.80 392.63,630.30 392.86,630.80 392.94,631.30 392.73,631.80 392.49,632.30 392.22,632.80 391.93,633.30 391.61,633.80 391.27,634.30 390.91,634.80 390.53,635.30 390.14,635.80 389.73,636.30 389.31,636.80 388.87,637.30 388.44,637.80 388.00,638.30" stroke="#000" stroke-width="1.25" fill="none"/>
<path d="M381.925,541.3H394.075M381.925,638.6H394.075" stroke="#000" stroke-width="1.3" fill="none"/>
<path d="M382.4,638.7V656.4M393.4,638.7V656.4M382.4,641.4H393.4M381.9,645.6H393.9" stroke="#000" stroke-width="1.25" fill="none"/>
<path d="M385.5,656.4V646.4H390.6V656.4" stroke="#000" stroke-width="1.1" fill="none"/>
<path d="M376.7,656.5H399.6L401.1,658V666L399.6,667.5H376.7L375.2,666V658Z" stroke="#000" stroke-width="1.25" fill="none"/>
<path d="M381.9,656.5V667.5M394.7,656.5V667.5" stroke="#000" stroke-width="1.1"/>
<path d="M447.9,24.7L449.09999999999997,23.2H450.59999999999997V29.8H448.79999999999995V25.5L447.9,25.9Z" fill="#000"/>
<text x="450.8" y="29.7" font-size="8.6" font-weight="bold" stroke="#000" stroke-width="0.35" textLength="12.2" lengthAdjust="spacingAndGlyphs">74</text>
<path d="M455.3,274.2L456.5,272.7H458.0V279.0H456.2V275.0L455.3,275.4Z" fill="#000"/>
<text x="458.4" y="278.9" font-size="8.6" font-weight="bold" stroke="#000" stroke-width="0.35" textLength="10.8" lengthAdjust="spacingAndGlyphs">35</text>
<text x="604.8" y="311.6" font-size="8.6" font-weight="bold" stroke="#000" stroke-width="0.35" textLength="17.2" lengthAdjust="spacingAndGlyphs" transform="rotate(-90 604.8 311.6)">239</text>
<text x="605.2" y="533.8" font-size="8.6" font-weight="bold" stroke="#000" stroke-width="0.35" textLength="12.0" lengthAdjust="spacingAndGlyphs" transform="rotate(-90 605.2 533.8)">40</text>
<text x="605.2" y="521.2" font-size="8.6" font-weight="bold" stroke="#000" stroke-width="0.35" textLength="20.0" lengthAdjust="spacingAndGlyphs" transform="rotate(-90 605.2 521.2)">MAX</text>
<text x="567.8" y="196.9" font-size="8.6" font-weight="bold" stroke="#000" stroke-width="0.35" textLength="12.0" lengthAdjust="spacingAndGlyphs">20</text>
<circle cx="581.6" cy="190.3" r="0.9" fill="none" stroke="#000" stroke-width="0.8"/>
<text x="415.0" y="683.6" font-size="8.6" font-weight="bold" stroke="#000" stroke-width="0.35" textLength="12.0" lengthAdjust="spacingAndGlyphs">G3</text>
<path d="M427.9,683.9L432.1,677.2" stroke="#000" stroke-width="1.7"/>
<text x="432.5" y="683.6" font-size="8.6" font-weight="bold" stroke="#000" stroke-width="0.35" textLength="5.4" lengthAdjust="spacingAndGlyphs">8</text>
<path d="M439.6,677.5V679.4M441.3,677.5V679.4" stroke="#000" stroke-width="1"/>
</svg></body></html>
